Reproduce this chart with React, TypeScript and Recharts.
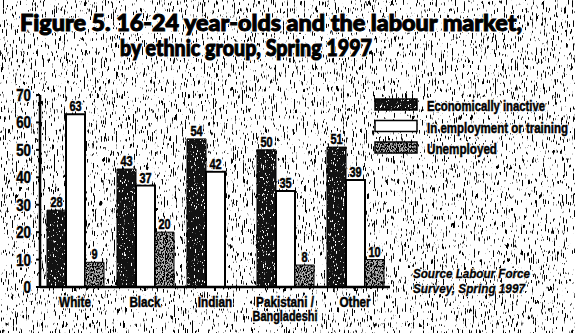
import React from "react";
import { BarChart, Bar, XAxis, YAxis, LabelList } from "recharts";

const categories = ["White", "Black", "Indian", "Pakistani / Bangladeshi", "Other"];
const inactive = [28, 43, 54, 50, 51];
const employed = [63, 37, 42, 35, 39];
const unemployed: (number | null)[] = [9, 20, null, 8, 10];
const yTicks = [0, 10, 20, 30, 40, 50, 60, 70];
const seriesNames = ["Economically inactive", "In employment or training", "Unemployed"];
const legendWidths = [118, 141, 70];
const titleLines = ["Figure 5. 16-24 year-olds and the labour market,", "by ethnic group, Spring 1997"];
const sourceLines = ["Source Labour Force", "Survey, Spring 1997"];

const data = categories.map((c, i) => ({
  name: c,
  inactive: inactive[i],
  employed: employed[i],
  unemployed: unemployed[i],
}));

const FONT = "'Liberation Sans', 'Arial', sans-serif";
const TITLE_FONT = "'Lato', 'Inter', 'Open Sans', sans-serif";
const SQ = 0.78; // horizontal squeeze for condensed look
const colors = { inactive: "url(#pInactive)", employed: "#ffffff", unemployed: "url(#pUnemp)" };
const legendColors = ["url(#pInactive)", "#ffffff", "url(#pUnemp)"];

// text drawn twice: a white halo beneath, then a heavy black glyph
const HText = (p: any) => {
  const { children, haloW = 3, weightW = 0.5, ...rest } = p;
  return (
    <>
      <text {...rest} fill="#fff" stroke="#fff" strokeWidth={haloW} strokeLinejoin="round">{children}</text>
      <text {...rest} fill="#000" stroke="#000" strokeWidth={weightW}>{children}</text>
    </>
  );
};

const XTick = (props: any) => {
  const { x, y, payload } = props;
  const parts = String(payload.value).split("/ ");
  return (
    <g transform={`translate(${x},${y}) scale(${SQ},1)`}>
      {parts.map((p, i) => (
        <HText key={i} x={0} y={14 + i * 14} textAnchor="middle" fontFamily={FONT} fontWeight="bold" fontSize={i > 0 ? 14 : 15}>
          {parts.length > 1 && i === 0 ? p + "/" : p}
        </HText>
      ))}
    </g>
  );
};

const YTick = (props: any) => {
  const { x, y, payload } = props;
  return (
    <g transform={`translate(${x - 3},${y + 6}) scale(${SQ},1)`}>
      <HText x={0} y={0} textAnchor="end" fontFamily={FONT} fontWeight="bold" fontSize={17}>
        {payload.value}
      </HText>
    </g>
  );
};

const ValueLabel = (props: any) => {
  const { x, y, width, value } = props;
  if (value == null) return null;
  return (
    <g transform={`translate(${x + width / 2},${y - 3}) scale(${SQ},1)`}>
      <HText x={0} y={0} textAnchor="middle" fontFamily={FONT} fontWeight="bold" fontSize={14}>
        {value}
      </HText>
    </g>
  );
};

export default function App() {
  const LSQ = 0.76;
  return (
    <div style={{ position: "fixed", left: 0, top: 0, width: 575, height: 333, background: "#fff", overflow: "hidden" }}>
      <svg width={575} height={333} style={{ position: "absolute", left: 0, top: 0 }}>
        <defs>
          <filter id="speckle" x="0" y="0" width="100%" height="100%">
            <feTurbulence type="fractalNoise" baseFrequency="0.9 0.14" numOctaves="2" seed="4" result="n" />
            <feColorMatrix in="n" type="matrix" values="0 0 0 0 0  0 0 0 0 0  0 0 0 0 0  14 0 0 0 -8.6" />
          </filter>
          <filter id="spk2" x="0" y="0" width="100%" height="100%">
            <feTurbulence type="fractalNoise" baseFrequency="0.9 0.3" numOctaves="2" seed="9" result="n" />
            <feColorMatrix in="n" type="matrix" values="0 0 0 0 1  0 0 0 0 1  0 0 0 0 1  14 0 0 0 -8.9" />
          </filter>
          <filter id="spk3" x="0" y="0" width="100%" height="100%">
            <feTurbulence type="fractalNoise" baseFrequency="0.9 0.5" numOctaves="2" seed="2" result="n" />
            <feColorMatrix in="n" type="matrix" values="0 0 0 0 0  0 0 0 0 0  0 0 0 0 0  10 0 0 0 -4.6" />
          </filter>
          <pattern id="pInactive" patternUnits="userSpaceOnUse" x={0} y={0} width={575} height={333}>
            <rect x={0} y={0} width={575} height={333} fill="#121212" />
            <rect x={0} y={0} width={575} height={333} fill="#fff" filter="url(#spk2)" />
          </pattern>
          <pattern id="pUnemp" patternUnits="userSpaceOnUse" x={0} y={0} width={575} height={333}>
            <rect x={0} y={0} width={575} height={333} fill="#b0b0b0" />
            <rect x={0} y={0} width={575} height={333} fill="#000" filter="url(#spk3)" />
          </pattern>
        </defs>
        <rect x={0} y={0} width={575} height={333} fill="#000" filter="url(#speckle)" />
      </svg>
      <div style={{ position: "absolute", left: 0, top: 0 }}>
        <BarChart width={575} height={333} data={data} margin={{ top: 95, right: 185, left: 0, bottom: 0 }} barGap={0} barSize={19}>
          <XAxis dataKey="name" height={46} tick={<XTick />} tickLine={{ stroke: "#000", strokeWidth: 2 }} tickSize={4} axisLine={{ stroke: "#000", strokeWidth: 2.5 }} interval={0} />
          <YAxis width={40} domain={[0, 70]} ticks={yTicks} tick={<YTick />} tickLine={{ stroke: "#000", strokeWidth: 2 }} tickSize={4} axisLine={{ stroke: "#000", strokeWidth: 2.5 }} allowDataOverflow />
          <Bar dataKey="inactive" name={seriesNames[0]} fill={colors.inactive} stroke="#000" strokeWidth={1} isAnimationActive={false}>
            <LabelList dataKey="inactive" content={<ValueLabel />} />
          </Bar>
          <Bar dataKey="employed" name={seriesNames[1]} fill={colors.employed} stroke="#000" strokeWidth={2} isAnimationActive={false}>
            <LabelList dataKey="employed" content={<ValueLabel />} />
          </Bar>
          <Bar dataKey="unemployed" name={seriesNames[2]} fill={colors.unemployed} stroke="#000" strokeWidth={1} isAnimationActive={false}>
            <LabelList dataKey="unemployed" content={<ValueLabel />} />
          </Bar>
        </BarChart>
      </div>
      <svg width={575} height={333} style={{ position: "absolute", left: 0, top: 0, pointerEvents: "none" }}>
        <HText x={20} y={31} textLength={502} lengthAdjust="spacingAndGlyphs" fontFamily={TITLE_FONT} fontWeight={900} fontSize={22} haloW={3.5} weightW={1}>
          {titleLines[0]}
        </HText>
        <HText x={120} y={56} textLength={252} lengthAdjust="spacingAndGlyphs" fontFamily={TITLE_FONT} fontWeight={900} fontSize={22} haloW={3.5} weightW={1}>
          {titleLines[1]}
        </HText>
        {seriesNames.map((n, i) => (
          <g key={n} transform={`translate(375,${99 + i * 21.5})`}>
            <rect x={0} y={0} width={42} height={11} fill={legendColors[i]} stroke="#000" strokeWidth={1.5} />
            <g transform={`translate(52,12) scale(${LSQ},1)`}>
              <HText x={0} y={0} textLength={legendWidths[i] / LSQ} lengthAdjust="spacingAndGlyphs" fontFamily={FONT} fontWeight="bold" fontSize={15} weightW={0.5}>
                {n}
              </HText>
            </g>
          </g>
        ))}
        {sourceLines.map((s, i) => (
          <HText key={s} x={413} y={278 + i * 15} textLength={i === 0 ? 117 : 112} lengthAdjust="spacingAndGlyphs" fontFamily={FONT} fontStyle="italic" fontWeight="bold" fontSize={12.5} haloW={2} weightW={0.3}>
            {s}
          </HText>
        ))}
      </svg>
    </div>
  );
}
